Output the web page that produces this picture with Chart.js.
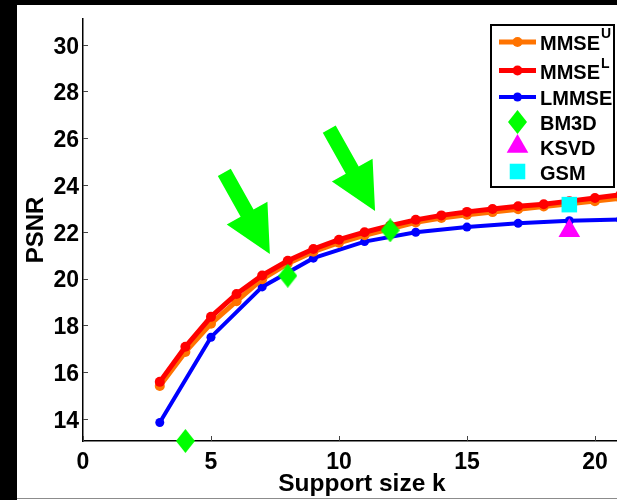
<!DOCTYPE html>
<html>
<head>
<meta charset="utf-8">
<script src="https://cdn.jsdelivr.net/npm/chart.js@4.4.1/dist/chart.umd.min.js"></script>
<style>
  html, body { margin: 0; padding: 0; width: 617px; height: 500px; overflow: hidden; background: #000; }
  #sheet { position: absolute; left: 17px; top: 5px; width: 600px; height: 495px; background: #fff; }
  #rule { position: absolute; left: 17px; top: 498px; width: 600px; height: 1px; background: #8c8c8c; }
  #plot { position: absolute; left: 0; top: 0; }
</style>
</head>
<body>
<div id="sheet"></div>
<div id="rule"></div>
<canvas id="plot" width="642" height="500"></canvas>
<script>
// Support sizes and PSNR results
const supportK   = [3, 4, 5, 6, 7, 8, 9, 10, 11, 12, 13, 14, 15, 16, 17, 18, 19, 20, 21];
const mmseUpper  = [15.40, 16.86, 18.07, 19.03, 19.97, 20.64, 21.15, 21.53, 21.85, 22.13, 22.40, 22.59, 22.73, 22.84, 22.96, 23.08, 23.20, 23.31, 23.43];
const mmseLower  = [15.58, 17.08, 18.36, 19.34, 20.13, 20.76, 21.26, 21.66, 21.98, 22.26, 22.51, 22.70, 22.85, 22.97, 23.09, 23.18, 23.31, 23.44, 23.58];
const lmmseK     = [3, 5, 7, 9, 11, 13, 15, 17, 19, 21];
const lmmse      = [13.84, 17.49, 19.64, 20.87, 21.58, 21.98, 22.20, 22.36, 22.47, 22.52];
const bm3dK      = [4, 8, 12];
const bm3d       = [13.05, 20.12, 22.06];
const ksvdK      = [19];
const ksvd       = [22.04];
const gsmK       = [19];
const gsm        = [23.16];

// Legend text (name + superscript)
const legendNames = ['MMSE', 'MMSE', 'LMMSE', 'BM3D', 'KSVD', 'GSM'];
const legendSups  = ['U', 'L', '', '', '', ''];

// Highlight arrows: tail and tip in data units (k, PSNR)
const arrowTails = [[5.52, 24.54], [9.62, 26.39]];
const arrowTips  = [[7.30, 21.05], [11.41, 22.89]];

const FONT = '"Liberation Sans", Arial, Helvetica, sans-serif';
const GREEN = '#00ff00';
const ORANGE = '#ff7300';

const zip = (xs, ys) => xs.map((x, i) => ({ x: x, y: ys[i] }));

// Tall diamond marker
function makeDiamond(w, h, color) {
  const c = document.createElement('canvas');
  c.width = w; c.height = h;
  const g = c.getContext('2d');
  g.fillStyle = color;
  g.beginPath();
  g.moveTo(w / 2, 0); g.lineTo(w, h / 2); g.lineTo(w / 2, h); g.lineTo(0, h / 2);
  g.closePath(); g.fill();
  return c;
}
const diamond = makeDiamond(19, 24, GREEN);

function drawMarker(ctx, ds, x, y) {
  const style = ds.pointStyle || 'circle';
  const r = ds.pointRadius;
  ctx.fillStyle = ds.pointBackgroundColor || ds.backgroundColor;
  if (style instanceof HTMLCanvasElement) {
    ctx.drawImage(style, x - style.width / 2, y - style.height / 2);
    return;
  }
  ctx.beginPath();
  if (style === 'circle') {
    ctx.arc(x, y, r, 0, Math.PI * 2);
  } else if (style === 'triangle') {
    let a = 0;
    for (let i = 0; i < 3; i++) {
      const px = x + Math.sin(a) * r, py = y - Math.cos(a) * r;
      if (i === 0) ctx.moveTo(px, py); else ctx.lineTo(px, py);
      a += 2 * Math.PI / 3;
    }
    ctx.closePath();
  } else if (style === 'rect') {
    const s = r * Math.SQRT1_2;
    ctx.rect(x - s, y - s, 2 * s, 2 * s);
  }
  ctx.fill();
}

// Inward tick marks on both axes
const inwardTicks = {
  id: 'inwardTicks',
  beforeDatasetsDraw(chart) {
    const { ctx, chartArea, scales } = chart;
    ctx.save();
    ctx.strokeStyle = '#444';
    ctx.lineWidth = 1;
    ctx.beginPath();
    scales.x.ticks.forEach(t => {
      const px = Math.round(scales.x.getPixelForValue(t.value)) + 0.5;
      ctx.moveTo(px, chartArea.bottom); ctx.lineTo(px, chartArea.bottom - 5);
    });
    scales.y.ticks.forEach(t => {
      const py = Math.round(scales.y.getPixelForValue(t.value)) + 0.5;
      ctx.moveTo(chartArea.left, py); ctx.lineTo(chartArea.left + 5, py);
    });
    ctx.stroke();
    ctx.restore();
  }
};

// Block arrows pointing at the curves
const arrows = {
  id: 'arrows',
  afterDatasetsDraw(chart) {
    const { ctx, scales } = chart;
    const headLen = 46.7, headHalf = 23.3, shaftHalf = 7.4;
    ctx.save();
    ctx.fillStyle = GREEN;
    arrowTails.forEach((tail, i) => {
      const tip = arrowTips[i];
      const x0 = scales.x.getPixelForValue(tail[0]), y0 = scales.y.getPixelForValue(tail[1]);
      const x1 = scales.x.getPixelForValue(tip[0]),  y1 = scales.y.getPixelForValue(tip[1]);
      const len = Math.hypot(x1 - x0, y1 - y0);
      const ux = (x1 - x0) / len, uy = (y1 - y0) / len;
      const nx = -uy, ny = ux;
      const bx = x1 - ux * headLen, by = y1 - uy * headLen;
      ctx.beginPath();
      ctx.moveTo(x0 + nx * shaftHalf, y0 + ny * shaftHalf);
      ctx.lineTo(bx + nx * shaftHalf, by + ny * shaftHalf);
      ctx.lineTo(bx + nx * headHalf, by + ny * headHalf);
      ctx.lineTo(x1, y1);
      ctx.lineTo(bx - nx * headHalf, by - ny * headHalf);
      ctx.lineTo(bx - nx * shaftHalf, by - ny * shaftHalf);
      ctx.lineTo(x0 - nx * shaftHalf, y0 - ny * shaftHalf);
      ctx.closePath();
      ctx.fill();
    });
    ctx.restore();
  }
};

// Boxed legend with superscripted names
const boxLegend = {
  id: 'boxLegend',
  afterDraw(chart) {
    const ctx = chart.ctx;
    const box = { x: 491, y: 25, w: 123, h: 162 };
    const rows = [43, 71.5, 98, 123, 147.5, 172.5];
    const supRaise = [12.5, 10.5];
    ctx.save();
    ctx.fillStyle = '#fff';
    ctx.fillRect(box.x, box.y, box.w, box.h);
    ctx.strokeStyle = '#000';
    ctx.lineWidth = 2;
    ctx.strokeRect(box.x, box.y, box.w, box.h);
    chart.data.datasets.forEach((ds, i) => {
      const cy = rows[i];
      const my = cy - 1;
      if (ds.showLine !== false) {
        ctx.strokeStyle = ds.borderColor;
        ctx.lineWidth = ds.borderWidth;
        ctx.beginPath();
        ctx.moveTo(499, my); ctx.lineTo(536, my);
        ctx.stroke();
      }
      drawMarker(ctx, ds, 517.5, my);
      ctx.fillStyle = '#000';
      ctx.textBaseline = 'alphabetic';
      ctx.textAlign = 'left';
      ctx.font = 'bold 20px ' + FONT;
      const base = cy + 7.2;
      ctx.fillText(legendNames[i], 540, base);
      if (legendSups[i]) {
        const w = ctx.measureText(legendNames[i]).width;
        ctx.font = 'bold 14px ' + FONT;
        ctx.fillText(legendSups[i], 540 + w + 1, base - supRaise[i]);
      }
    });
    ctx.restore();
  }
};

new Chart(document.getElementById('plot'), {
  type: 'line',
  data: {
    datasets: [
      { label: 'MMSE^U', data: zip(supportK, mmseUpper), borderColor: ORANGE, backgroundColor: ORANGE,
        pointBackgroundColor: ORANGE, borderWidth: 5, pointRadius: 5, pointBorderWidth: 0, order: 2 },
      { label: 'MMSE^L', data: zip(supportK, mmseLower), borderColor: '#ff0000', backgroundColor: '#ff0000',
        pointBackgroundColor: '#ff0000', borderWidth: 5, pointRadius: 5, pointBorderWidth: 0, order: 1 },
      { label: 'LMMSE', data: zip(lmmseK, lmmse), borderColor: '#0000ff', backgroundColor: '#0000ff',
        pointBackgroundColor: '#0000ff', borderWidth: 4, pointRadius: 4.5, pointBorderWidth: 0, order: 3 },
      { label: 'BM3D', data: zip(bm3dK, bm3d), showLine: false, pointStyle: diamond, pointRadius: 10,
        backgroundColor: GREEN, pointBackgroundColor: GREEN, pointBorderWidth: 0, clip: false, order: 0 },
      { label: 'KSVD', data: zip(ksvdK, ksvd), showLine: false, pointStyle: 'triangle', pointRadius: 12.5,
        backgroundColor: '#ff00ff', pointBackgroundColor: '#ff00ff', pointBorderWidth: 0, clip: false, order: 0 },
      { label: 'GSM', data: zip(gsmK, gsm), showLine: false, pointStyle: 'rect', pointRadius: 11,
        backgroundColor: '#00ffff', pointBackgroundColor: '#00ffff', pointBorderWidth: 0, clip: false, order: 0 }
    ]
  },
  options: {
    responsive: false,
    animation: false,
    events: [],
    layout: { autoPadding: false, padding: { left: 0, top: 19, right: 1, bottom: 0 } },
    elements: { line: { tension: 0 } },
    plugins: { legend: { display: false }, tooltip: { enabled: false } },
    scales: {
      x: {
        type: 'linear', min: 0, max: 21.8,
        grid: { display: false, drawTicks: false },
        border: { display: true, color: '#000', width: 1.5 },
        ticks: { stepSize: 5, includeBounds: false, color: '#000', padding: 8, maxRotation: 0,
                 font: { family: FONT, size: 23, weight: 'bold' } },
        title: { display: true, text: 'Support size k', color: '#000', padding: { top: 0, bottom: 0.8 },
                 font: { family: FONT, size: 24.5, weight: 'bold' } },
        afterFit(scale) { scale.height = 59; scale.paddingLeft = 0; scale.paddingRight = 0; }
      },
      y: {
        type: 'linear', min: 13.05, max: 31.1,
        grid: { display: false, drawTicks: false },
        border: { display: true, color: '#000', width: 1.5 },
        ticks: { stepSize: 2, includeBounds: false, color: '#000', padding: 4, labelOffset: 2.5,
                 font: { family: FONT, size: 23, weight: 'bold' } },
        title: { display: true, text: 'PSNR', color: '#000', padding: { top: 21.6, bottom: 0 },
                 font: { family: FONT, size: 24, weight: 'bold' } },
        afterFit(scale) { scale.width = 83; scale.paddingTop = 0; scale.paddingBottom = 0; }
      }
    }
  },
  plugins: [inwardTicks, arrows, boxLegend]
});
</script>
</body>
</html>
